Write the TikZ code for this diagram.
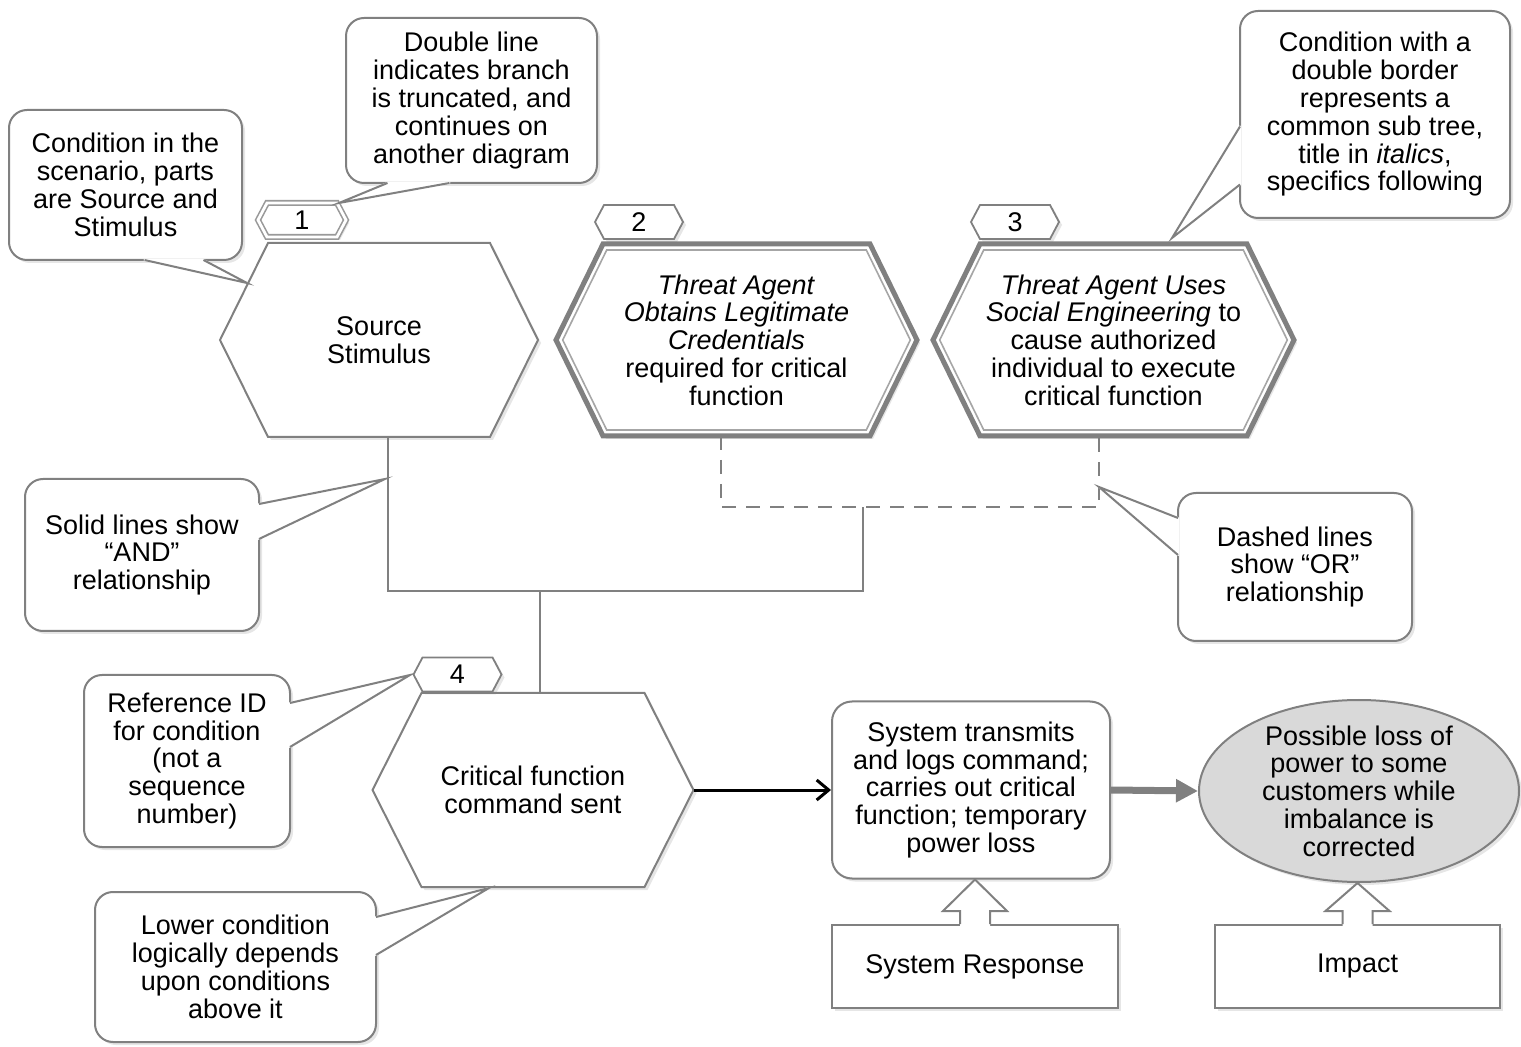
\documentclass[tikz,border=0pt]{standalone}
\usepackage{fontspec}
\setmainfont{Liberation Sans}
\usetikzlibrary{calc,arrows.meta,shadows,backgrounds,shapes.geometric}

\tikzset{
  cond/.style={rectangle, align=center, inner sep=0pt, outer sep=0pt, minimum width=111pt, minimum height=97pt},
  tag/.style={rectangle, inner sep=0pt, outer sep=0pt, minimum width=35pt, minimum height=17pt},
  softshadow/.style={drop shadow={opacity=.2, shadow xshift=1.5pt, shadow yshift=-1.5pt}},
  note/.style={draw=gray, line width=1pt, rounded corners=9pt, fill=white, align=center, inner sep=0pt, outer sep=0pt, softshadow},
  hexline/.style={draw=gray, line width=1pt, fill=white, softshadow},
  hexthick/.style={hexline, line width=2.5pt},
  hexinner/.style={draw=gray!70, line width=.8pt},
  tagline/.style={hexline, line width=.9pt},
  tagdouble/.style={hexline, draw=gray!80, line width=.8pt, double=white, double distance=1.4pt},
  andline/.style={draw=gray, line width=1.3pt},
  orline/.style={andline, dash pattern=on 7pt off 5pt},
  noteline/.style={draw=gray, line width=1pt, line join=miter},
  blockarr/.style={draw=gray, line width=1pt},
}

% hexagon round a node: options, node, point depth, grow
\newcommand\hexa[4][]{%
  \draw[#1] ($(#2.north west)+({-.62*(#4)},{-(#4)})$)
    -- ($(#2.north east)+({.62*(#4)},{-(#4)})$)
    -- ($(#2.east)+({#3+1.116*(#4)},0)$)
    -- ($(#2.south east)+({.62*(#4)},{#4})$)
    -- ($(#2.south west)+({-.62*(#4)},{#4})$)
    -- ($(#2.west)+({-#3-1.116*(#4)},0)$) -- cycle;}

% pointer of a callout: base point, base point, tip
\newcommand\tail[3]{%
  \filldraw[white, line width=1pt, line join=round] (#1) -- (#3) -- (#2) -- cycle;
  \draw[noteline] (#1) -- (#3) -- (#2);}

% hollow arrow from the top of one box up to another
\newcommand\blockup[2]{%
  \fill[white] ($(#1.north)+(-15,3)$) -- ++(0,-16) -- ++(-17,0) -- (#1.north |- #2.south) -- ($(#1.north)+(32,-13)$) -- ++(-17,0) -- ++(0,16) -- cycle;
  \draw[blockarr] ($(#1.north)+(-15,0)$) -- ++(0,-13) -- ++(-17,0) -- (#1.north |- #2.south) -- ($(#1.north)+(32,-13)$) -- ++(-17,0) -- ++(0,13);}

\begin{document}
\begin{tikzpicture}[x=0.5pt, y=-0.5pt, every node/.style={font=\fontsize{13.5pt}{13.9pt}\selectfont}]
\useasboundingbox (0,0) rectangle (1521,1047);

% conditions
\node[cond] (h1) at (379,340){Source\\Stimulus};
\node[cond, minimum width=133.5pt, minimum height=96pt] (h2) at (736.5,340){\textit{Threat Agent}\\\textit{Obtains Legitimate}\\\textit{Credentials}\\required for critical\\function};
\node[cond, minimum width=133.5pt, minimum height=96pt] (h3) at (1113.5,340){\textit{Threat Agent Uses}\\\textit{Social Engineering} to\\cause authorized\\individual to execute\\critical function};
\node[cond, minimum width=111.5pt] (h4) at (533,790){Critical function\\command sent};

\node[tag] (t1) at (302,220){1};
\node[tag] (t2) at (639,222){2};
\node[tag] (t3) at (1015,222){3};
\node[tag] (t4) at (457.5,674.5){4};

\begin{scope}[on background layer]
\hexa[hexline]{h1}{48}{0}
\hexa[hexthick]{h2}{47}{0}
\hexa[hexinner]{h2}{47}{-6}
\hexa[hexthick]{h3}{47}{0}
\hexa[hexinner]{h3}{47}{-6}
\hexa[hexline]{h4}{49}{0}
\hexa[tagdouble]{t1}{9}{0}
\hexa[tagline]{t2}{9}{0}
\hexa[tagline]{t3}{9}{0}
\hexa[tagline]{t4}{9}{0}
\end{scope}

% response and impact
\node[draw=gray, line width=1pt, rounded corners=10pt, fill=white, align=center, inner sep=0pt, minimum width=139pt, minimum height=88.5pt, softshadow] (st) at (971,790){System transmits\\and logs command;\\carries out critical\\function; temporary\\power loss};
\node[ellipse, draw=gray, line width=1pt, fill=gray!30, align=center, inner xsep=0pt, inner ysep=-6pt, minimum width=160pt, minimum height=91pt, softshadow] (imp) at (1359,791){Possible loss of\\power to some\\customers while\\imbalance is\\corrected};
\node[draw=gray, line width=1pt, fill=white, minimum width=143pt, minimum height=41.5pt, softshadow] (sr) at (975,966.5){System Response};
\node[draw=gray, line width=1pt, fill=white, minimum width=142.5pt, minimum height=41.5pt, softshadow] (ib) at (1357.5,966.5){Impact};

% AND / OR lines
\coordinate (andj) at (540,591);
\coordinate (orj) at (863,507);
\draw[orline] ($(h2.south)+(-15.5,0)$) |- (orj) -| ($(h3.south)+(-14.5,0)$);
\draw[andline] ($(h1.south)+(9,0)$) |- (andj) -| (orj);
\draw[andline] (andj) -- (andj |- h4.north);

\draw[line width=1.5pt, -{Straight Barb[length=6pt,width=10pt]}] ($(h4.east)+(49,0)$) -- (st.west);
\draw[gray, line width=3.5pt, -{Triangle[length=11pt,width=11pt]}] (st.east) -- (imp.west);
\blockup{sr}{st}
\blockup{ib}{imp}

% callouts
\node[note, minimum width=116.5pt, minimum height=75pt] (c1) at (125.5,185){Condition in the\\scenario, parts\\are Source and\\Stimulus};
\node[note, minimum width=125.5pt, minimum height=82.5pt] (c2) at (471.5,100.5){Double line\\indicates branch\\is truncated, and\\continues on\\another diagram};
\node[note, minimum width=135pt, minimum height=103.5pt] (c3) at (1375,114.5){Condition with a\\double border\\represents a\\common sub tree,\\title in \textit{italics},\\specifics following};
\node[note, minimum width=117pt, minimum height=76pt] (c4) at (142,555){Solid lines show\\“AND”\\relationship};
\node[note, minimum width=117pt, minimum height=74pt] (c5) at (1295,567){Dashed lines\\show “OR”\\relationship};
\node[note, minimum width=103pt, minimum height=86pt] (c6) at (187,761){Reference ID\\for condition\\(not a\\sequence\\number)};
\node[note, minimum width=140.5pt, minimum height=75pt] (c7) at (235.5,967){Lower condition\\logically depends\\upon conditions\\above it};

\coordinate (p1) at (247,283);
\coordinate (p2) at (339,203);
\coordinate (p3) at (1172,238);
\coordinate (p4) at (385,479);
\coordinate (p5) at (1099,487);
\coordinate (p6) at (410,675);
\coordinate (p7) at (489,888);
\tail{$(c1.south)+(19,0)$}{$(c1.south)+(78,0)$}{p1}
\tail{$(c2.south)+(-84,0)$}{$(c2.south)+(-22,0)$}{p2}
\tail{$(c3.west)+(0,12)$}{$(c3.west)+(0,70)$}{p3}
\tail{$(c4.east)+(0,-51)$}{$(c4.east)+(0,-16)$}{p4}
\tail{$(c5.west)+(0,-49)$}{$(c5.west)+(0,-12)$}{p5}
\tail{$(c6.east)+(0,-58)$}{$(c6.east)+(0,-14)$}{p6}
\tail{$(c7.east)+(0,-50)$}{$(c7.east)+(0,-12)$}{p7}
\end{tikzpicture}
\end{document}
